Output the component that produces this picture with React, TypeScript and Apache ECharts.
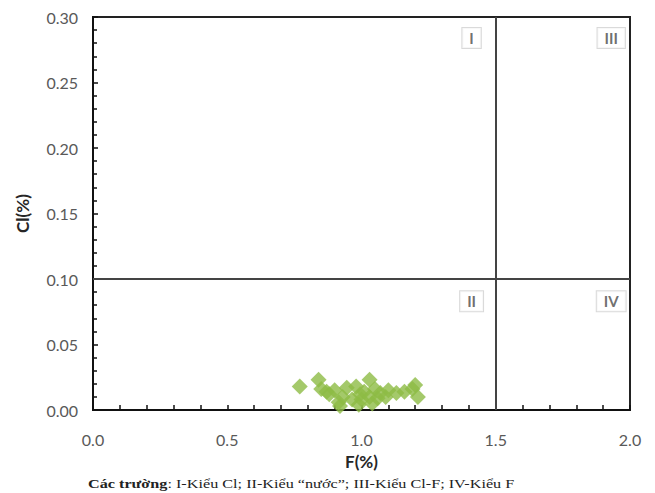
import React, { useEffect, useRef } from "react";
import * as echarts from "echarts";

const fValues = [0.77, 0.84, 0.85, 0.87, 0.88, 0.90, 0.915, 0.92, 0.93, 0.945, 0.965, 0.98, 0.99, 0.995, 1.00, 1.01, 1.03, 1.03, 1.04, 1.05, 1.06, 1.07, 1.09, 1.10, 1.13, 1.16, 1.19, 1.20, 1.21];
const clValues = [0.018, 0.023, 0.016, 0.014, 0.012, 0.015, 0.006, 0.003, 0.010, 0.017, 0.008, 0.018, 0.004, 0.012, 0.008, 0.014, 0.023, 0.010, 0.005, 0.016, 0.009, 0.013, 0.010, 0.015, 0.013, 0.014, 0.016, 0.019, 0.010];

const quadrantNames = ["I", "III", "II", "IV"];
const quadrantX = [1.41, 1.93, 1.41, 1.93];
const quadrantY = [0.284, 0.284, 0.083, 0.083];

const fLimit = 1.5;
const clLimit = 0.1;

const caption = "Các trường";
const captionRest = ": I-Kiểu Cl; II-Kiểu \u201cnước\u201d; III-Kiểu Cl-F; IV-Kiểu F";

export default function App() {
  const ref = useRef<HTMLDivElement>(null);
  useEffect(() => {
    if (!ref.current) return;
    const chart = echarts.init(ref.current, null, { renderer: "svg" });
    const labelFont = "Lato, 'Open Sans', sans-serif";
    chart.setOption({
      animation: false,
      backgroundColor: "#ffffff",
      grid: {
        left: 93,
        right: 25,
        top: 17,
        bottom: 83,
        show: true,
        borderColor: "#222",
        borderWidth: 2,
      },
      xAxis: {
        type: "value",
        min: 0,
        max: 2,
        interval: 0.5,
        name: "F(%)",
        nameLocation: "middle",
        nameGap: 43,
        nameTextStyle: { fontFamily: labelFont, fontWeight: "bold", fontSize: 17, color: "#262626" },
        axisLine: { show: true, lineStyle: { color: "#111", width: 2 } },
        axisTick: { show: true, inside: true, length: 5, lineStyle: { color: "#111", width: 1.5 } },
        minorTick: { show: true, splitNumber: 5, length: 5, lineStyle: { color: "#111", width: 1.5 } },
        splitLine: { show: false },
        axisLabel: {
          margin: 21,
          fontFamily: labelFont,
          fontSize: 16,
          color: "#595959",
          formatter: (v: number) => v.toFixed(1),
        },
      },
      yAxis: {
        type: "value",
        min: 0,
        max: 0.3,
        interval: 0.05,
        name: "Cl(%)",
        nameLocation: "middle",
        nameGap: 62,
        nameTextStyle: { fontFamily: labelFont, fontWeight: "bold", fontSize: 17, color: "#262626" },
        axisLine: { show: true, lineStyle: { color: "#111", width: 2 } },
        axisTick: { show: true, inside: true, length: 5, lineStyle: { color: "#111", width: 1.5 } },
        minorTick: { show: true, splitNumber: 5, length: 4, lineStyle: { color: "#111", width: 1.5 } },
        splitLine: { show: false },
        axisLabel: {
          margin: 15,
          fontFamily: labelFont,
          fontSize: 16,
          color: "#595959",
          formatter: (v: number) => v.toFixed(2),
        },
      },
      series: [
        {
          type: "scatter",
          symbol: "diamond",
          symbolSize: 16,
          itemStyle: { color: "#8dbb45" },
          data: fValues.map((f, i) => [f, clValues[i]]),
          markLine: {
            silent: true,
            symbol: "none",
            label: { show: false },
            lineStyle: { color: "#444", width: 2, type: "solid" },
            data: [{ xAxis: fLimit }, { yAxis: clLimit }],
          },
          z: 3,
        },
        {
          type: "scatter",
          symbolSize: 1,
          itemStyle: { color: "rgba(0,0,0,0)" },
          data: quadrantNames.map((n, i) => ({ name: n, value: [quadrantX[i], quadrantY[i]] })),
          label: {
            show: true,
            position: "inside",
            formatter: (p: any) => p.name,
            fontFamily: labelFont,
            fontSize: 15,
            fontWeight: "bold",
            color: "#4a4a4a",
            backgroundColor: "#fff",
            borderColor: "#cfcfcf",
            borderWidth: 1,
            padding: [3, 7, 2, 7],
          },
          z: 4,
        },
      ],
      graphic: [
        {
          type: "text",
          x: 88,
          y: 478,
          scaleX: 1.35,
          style: {
            text: "{b|" + caption + "}{r|" + captionRest + "}",
            rich: {
              b: { fontFamily: "'Liberation Serif', serif", fontSize: 12, fontWeight: "bold", fill: "#222" },
              r: { fontFamily: "'Liberation Serif', serif", fontSize: 12, fill: "#222" },
            },
          },
        },
      ],
    });
    return () => chart.dispose();
  }, []);
  return <div ref={ref} style={{ width: 655, height: 493, position: "absolute", left: 0, top: 0 }} />;
}
